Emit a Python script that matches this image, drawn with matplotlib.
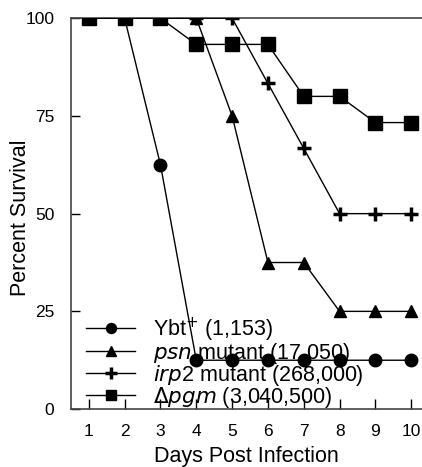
import matplotlib.pyplot as plt

plt.rcParams['font.family'] = ['Liberation Sans', 'DejaVu Sans']

# 数据定义
days = [1, 2, 3, 4, 5, 6, 7, 8, 9, 10]
ybt = [100, 100, 62.5, 12.5, 12.5, 12.5, 12.5, 12.5, 12.5, 12.5]
psn = [100, 100, 100, 100, 75, 37.5, 37.5, 25, 25, 25]
irp2 = [100, 100, 100, 100, 100, 83.3, 66.7, 50, 50, 50]
pgm = [100, 100, 100, 93.3, 93.3, 93.3, 80, 80, 73.3, 73.3]
labels = [r"Ybt$^{+}$ (1,153)",
          r"$\it{psn}$ mutant (17,050)",
          r"$\it{irp}$2 mutant (268,000)",
          r"$\it{\Delta pgm}$ (3,040,500)"]
yticks = [0, 25, 50, 75, 100]

fig = plt.figure(figsize=(4.22, 4.67), dpi=100)
ax = fig.add_axes([0.168, 0.124, 0.832, 0.837])

kw = dict(color='black', linewidth=1.0, zorder=10)
ax.plot(days, ybt, marker='o', markersize=9, label=labels[0], **kw)
ax.plot(days, psn, marker='^', markersize=9, label=labels[1], **kw)
ax.plot(days, irp2, marker='+', markersize=10, markeredgewidth=2.5, label=labels[2], **kw)
ax.plot(days, pgm, marker='s', markersize=9.5, label=labels[3], **kw)

ax.set_xlim(0.5, 10.3)
ax.set_ylim(0, 100)
ax.set_xticks(days)
ax.set_yticks(yticks)
ax.tick_params(axis='x', direction='in', length=7, width=1, labelsize=12.5, pad=11)
ax.tick_params(axis='y', direction='in', length=6.5, width=1, labelsize=12.5, pad=12)

for s in ['left', 'bottom', 'top']:
    ax.spines[s].set_linewidth(1.2)
    ax.spines[s].set_color('#444444')
ax.spines['right'].set_visible(False)

ax.set_xlabel("Days Post Infection", fontsize=15.5, labelpad=5)
ax.set_ylabel("Percent Survival", fontsize=15.5)
ax.yaxis.set_label_coords(-0.114, 0.49)

leg = ax.legend(loc='lower left', bbox_to_anchor=(0.0, -0.04), frameon=False,
                fontsize=15.5, handlelength=2.3, handletextpad=0.8,
                labelspacing=-0.14, borderaxespad=0.3, markerscale=0.8)
leg.set_zorder(1)

plt.savefig("out.png", dpi=100)
plt.close()
